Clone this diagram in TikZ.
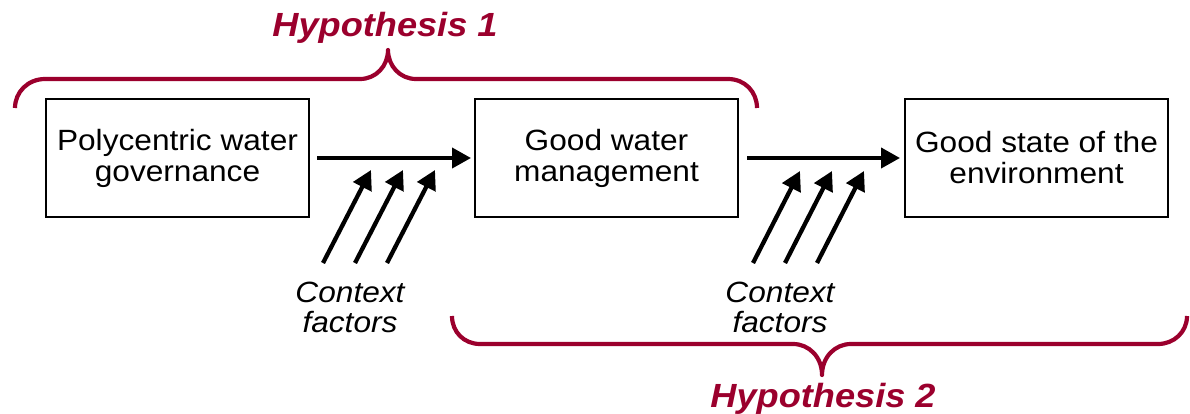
\documentclass[tikz,border=0pt]{standalone}
\usepackage{fontspec}
\setmainfont{Liberation Sans}[FakeStretch=1.08]
\usetikzlibrary{arrows.meta}
\definecolor{hypred}{RGB}{155,0,45}
\begin{document}
\begin{tikzpicture}[x=1pt, y=-1pt, inner sep=0pt, outer sep=0pt,
  box/.style={draw=black, line width=1.6pt, minimum width=263pt, minimum height=118pt,
    align=center, font=\fontsize{29.3}{31}\selectfont},
  flow/.style={line width=4pt, -{Triangle[length=19pt,width=20pt]}},
  ctxarrow/.style={line width=4.3pt, -{Triangle[length=19pt,width=20pt]}},
  ctxtext/.style={align=center, font=\fontsize{29.3}{30}\selectfont\itshape},
  brace/.style={draw=hypred, line width=4.2pt, line join=round},
  hyp/.style={text=hypred, anchor=base, font=\fontsize{33.5}{36}\selectfont\bfseries\itshape}]
\useasboundingbox (0,0) rectangle (1190,414);
% the three stages
\node[box] (gov) at (177.5,158) {Polycentric water\\governance};
\node[box] (mgmt) at (606.5,158) {Good water\\management};
\node[box] (env) at (1036.5,158) {Good state of the\\environment};
\draw[flow, shorten <=8pt, shorten >=4pt] (gov) -- (mgmt);
\draw[flow, shorten <=9pt, shorten >=5pt] (mgmt) -- (env);
% context factors
\foreach \i in {0,1,2} {
  \coordinate (ctxA tail \i) at ({323+32*\i},263);
  \coordinate (ctxA tip \i) at ({371+32*\i},170);
  \coordinate (ctxB tail \i) at ({753+32*\i},263);
  \coordinate (ctxB tip \i) at ({800+32*\i},171);
  \draw[ctxarrow] (ctxA tail \i) -- (ctxA tip \i);
  \draw[ctxarrow] (ctxB tail \i) -- (ctxB tip \i);
}
\node[ctxtext] (ctxA) at (350,307.5) {Context\\factors};
\node[ctxtext] (ctxB) at (780,307.5) {Context\\factors};
% hypotheses
\path[brace] (15,108) .. controls (15,92) and (28,79) .. (45,79) -- (360,79)
  .. controls (376,79) and (388,66) .. (388,50)
  .. controls (388,66) and (400,79) .. (416,79) -- (728,79)
  .. controls (745,79) and (757,92) .. (757,108);
\path[brace] (452,316) .. controls (452,332) and (464,344) .. (480,344) -- (793,344)
  .. controls (809,344) and (822,357) .. (822,375)
  .. controls (822,357) and (835,344) .. (851,344) -- (1158,344)
  .. controls (1174,344) and (1187,332) .. (1187,316);
\node[hyp] (hypA) at (385,37) {Hypothesis 1};
\node[hyp] (hypB) at (823,407) {Hypothesis 2};
\end{tikzpicture}
\end{document}
